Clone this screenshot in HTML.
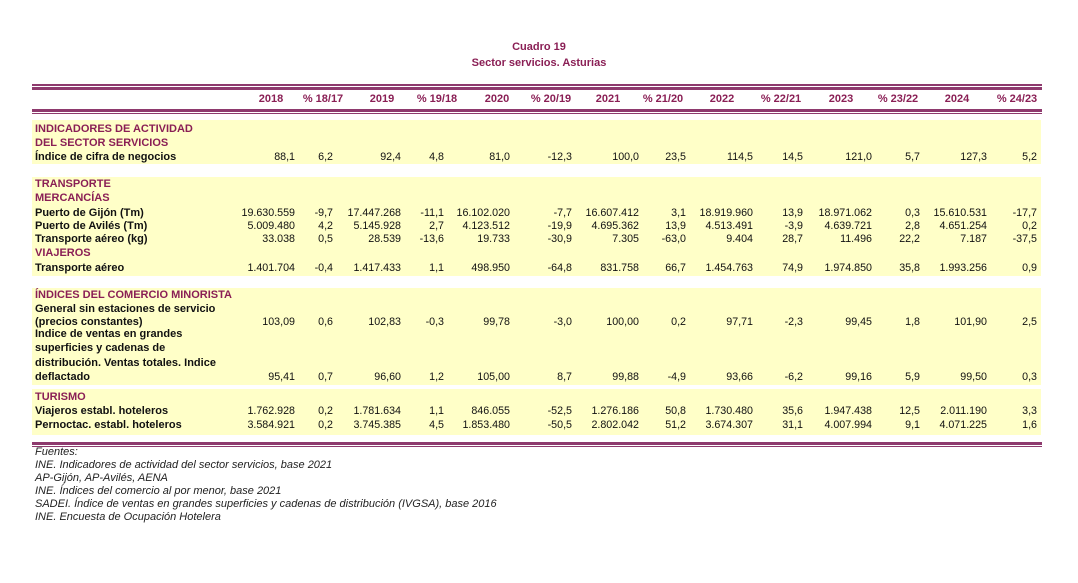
<!DOCTYPE html>
<html><head><meta charset="utf-8"><style>
body{margin:0;width:1078px;height:583px;background:#fff;position:relative;font-family:"Liberation Sans",sans-serif;overflow:hidden}
.a{position:absolute;white-space:nowrap}
.t{color:#8a1f55;font-weight:bold;font-size:11px;left:0;width:1078px;text-align:center}
.ln{position:absolute;left:32px;width:1010px;background:#8e3a6e}
.y{position:absolute;left:32px;width:1009px;background:#ffffc8}
.r{position:absolute;left:0;width:1078px;height:14px;font-size:11px;font-weight:bold;color:#111;line-height:14px}
.r span{position:absolute;text-align:right;width:90px;font-weight:normal;font-size:10.7px}
.r .l{left:35px;text-align:left;font-weight:bold;width:auto}
.r .h{color:#8a1f55}
.hd{position:absolute;font-size:11px;font-weight:bold;color:#8a1f55;text-align:center;width:70px;top:93px}
.s1{left:205px}.s2{left:243px}.s3{left:311px}.s4{left:354px}.s5{left:420px}.s6{left:482px}.s7{left:549px}.s8{left:596px}.s9{left:663px}.s10{left:713px}.s11{left:782px}.s12{left:830px}.s13{left:897px}.s14{left:947px}
.f{position:absolute;left:35px;font-size:11px;font-style:italic;color:#222;line-height:13px}
</style></head><body>
<div class="a t" style="top:41px">Cuadro 19</div>
<div class="a t" style="top:57px">Sector servicios. Asturias</div>
<div class="ln" style="top:84px;height:2px"></div>
<div class="ln" style="top:87px;height:3px"></div>
<div class="ln" style="top:109px;height:3px"></div>
<div class="ln" style="top:113px;height:1px"></div>
<div class="hd" style="left:236px">2018</div><div class="hd" style="left:288px">% 18/17</div>
<div class="hd" style="left:347px">2019</div><div class="hd" style="left:402px">% 19/18</div>
<div class="hd" style="left:462px">2020</div><div class="hd" style="left:516px">% 20/19</div>
<div class="hd" style="left:573px">2021</div><div class="hd" style="left:628px">% 21/20</div>
<div class="hd" style="left:687px">2022</div><div class="hd" style="left:746px">% 22/21</div>
<div class="hd" style="left:806px">2023</div><div class="hd" style="left:863px">% 23/22</div>
<div class="hd" style="left:922px">2024</div><div class="hd" style="left:982px">% 24/23</div>

<div class="y" style="top:120px;height:44px"></div>
<div class="y" style="top:177px;height:99px"></div>
<div class="y" style="top:288px;height:97px"></div>
<div class="y" style="top:389px;height:46px"></div>

<div class="r" style="top:122px"><b class="l a h">INDICADORES DE ACTIVIDAD</b></div>
<div class="r" style="top:136px"><b class="l a h">DEL SECTOR SERVICIOS</b></div>
<div class="r" style="top:150px"><b class="l a">Índice de cifra de negocios</b><span class="s1">88,1</span><span class="s2">6,2</span><span class="s3">92,4</span><span class="s4">4,8</span><span class="s5">81,0</span><span class="s6">-12,3</span><span class="s7">100,0</span><span class="s8">23,5</span><span class="s9">114,5</span><span class="s10">14,5</span><span class="s11">121,0</span><span class="s12">5,7</span><span class="s13">127,3</span><span class="s14">5,2</span></div>

<div class="r" style="top:177px"><b class="l a h">TRANSPORTE</b></div>
<div class="r" style="top:191px"><b class="l a h">MERCANCÍAS</b></div>
<div class="r" style="top:206px"><b class="l a">Puerto de Gijón (Tm)</b><span class="s1">19.630.559</span><span class="s2">-9,7</span><span class="s3">17.447.268</span><span class="s4">-11,1</span><span class="s5">16.102.020</span><span class="s6">-7,7</span><span class="s7">16.607.412</span><span class="s8">3,1</span><span class="s9">18.919.960</span><span class="s10">13,9</span><span class="s11">18.971.062</span><span class="s12">0,3</span><span class="s13">15.610.531</span><span class="s14">-17,7</span></div>
<div class="r" style="top:219px"><b class="l a">Puerto de Avilés (Tm)</b><span class="s1">5.009.480</span><span class="s2">4,2</span><span class="s3">5.145.928</span><span class="s4">2,7</span><span class="s5">4.123.512</span><span class="s6">-19,9</span><span class="s7">4.695.362</span><span class="s8">13,9</span><span class="s9">4.513.491</span><span class="s10">-3,9</span><span class="s11">4.639.721</span><span class="s12">2,8</span><span class="s13">4.651.254</span><span class="s14">0,2</span></div>
<div class="r" style="top:232px"><b class="l a">Transporte aéreo (kg)</b><span class="s1">33.038</span><span class="s2">0,5</span><span class="s3">28.539</span><span class="s4">-13,6</span><span class="s5">19.733</span><span class="s6">-30,9</span><span class="s7">7.305</span><span class="s8">-63,0</span><span class="s9">9.404</span><span class="s10">28,7</span><span class="s11">11.496</span><span class="s12">22,2</span><span class="s13">7.187</span><span class="s14">-37,5</span></div>
<div class="r" style="top:246px"><b class="l a h">VIAJEROS</b></div>
<div class="r" style="top:261px"><b class="l a">Transporte aéreo</b><span class="s1">1.401.704</span><span class="s2">-0,4</span><span class="s3">1.417.433</span><span class="s4">1,1</span><span class="s5">498.950</span><span class="s6">-64,8</span><span class="s7">831.758</span><span class="s8">66,7</span><span class="s9">1.454.763</span><span class="s10">74,9</span><span class="s11">1.974.850</span><span class="s12">35,8</span><span class="s13">1.993.256</span><span class="s14">0,9</span></div>

<div class="r" style="top:288px"><b class="l a h">ÍNDICES DEL COMERCIO MINORISTA</b></div>
<div class="r" style="top:302px"><b class="l a">General sin estaciones de servicio</b></div>
<div class="r" style="top:315px"><b class="l a">(precios constantes)</b><span class="s1">103,09</span><span class="s2">0,6</span><span class="s3">102,83</span><span class="s4">-0,3</span><span class="s5">99,78</span><span class="s6">-3,0</span><span class="s7">100,00</span><span class="s8">0,2</span><span class="s9">97,71</span><span class="s10">-2,3</span><span class="s11">99,45</span><span class="s12">1,8</span><span class="s13">101,90</span><span class="s14">2,5</span></div>
<div class="r" style="top:327px"><b class="l a">Indice de ventas en grandes</b></div>
<div class="r" style="top:341px"><b class="l a">superficies y cadenas de</b></div>
<div class="r" style="top:356px"><b class="l a">distribución. Ventas totales. Indice</b></div>
<div class="r" style="top:370px"><b class="l a">deflactado</b><span class="s1">95,41</span><span class="s2">0,7</span><span class="s3">96,60</span><span class="s4">1,2</span><span class="s5">105,00</span><span class="s6">8,7</span><span class="s7">99,88</span><span class="s8">-4,9</span><span class="s9">93,66</span><span class="s10">-6,2</span><span class="s11">99,16</span><span class="s12">5,9</span><span class="s13">99,50</span><span class="s14">0,3</span></div>

<div class="r" style="top:390px"><b class="l a h">TURISMO</b></div>
<div class="r" style="top:404px"><b class="l a">Viajeros establ. hoteleros</b><span class="s1">1.762.928</span><span class="s2">0,2</span><span class="s3">1.781.634</span><span class="s4">1,1</span><span class="s5">846.055</span><span class="s6">-52,5</span><span class="s7">1.276.186</span><span class="s8">50,8</span><span class="s9">1.730.480</span><span class="s10">35,6</span><span class="s11">1.947.438</span><span class="s12">12,5</span><span class="s13">2.011.190</span><span class="s14">3,3</span></div>
<div class="r" style="top:418px"><b class="l a">Pernoctac. establ. hoteleros</b><span class="s1">3.584.921</span><span class="s2">0,2</span><span class="s3">3.745.385</span><span class="s4">4,5</span><span class="s5">1.853.480</span><span class="s6">-50,5</span><span class="s7">2.802.042</span><span class="s8">51,2</span><span class="s9">3.674.307</span><span class="s10">31,1</span><span class="s11">4.007.994</span><span class="s12">9,1</span><span class="s13">4.071.225</span><span class="s14">1,6</span></div>

<div class="ln" style="top:442px;height:3px"></div>
<div class="ln" style="top:446px;height:1px"></div>
<div class="f" style="top:446px">Fuentes:<br>INE. Indicadores de actividad del sector servicios, base 2021<br>AP-Gijón, AP-Avilés, AENA<br>INE. Índices del comercio al por menor, base 2021<br>SADEI. Índice de ventas en grandes superficies y cadenas de distribución (IVGSA), base 2016<br>INE. Encuesta de Ocupación Hotelera</div>
</body></html>
